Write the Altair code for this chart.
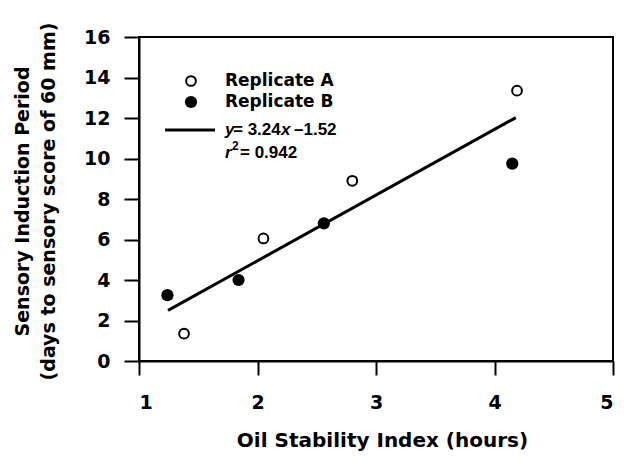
import altair as alt
import pandas as pd

# Data
a_x = [1.38, 2.05, 2.80, 4.19]
a_y = [1.35, 6.05, 8.9, 13.35]
b_x = [1.24, 1.84, 2.56, 4.15]
b_y = [3.25, 4.0, 6.8, 9.75]
fit_x = [1.245, 4.18]
fit_y = [2.50, 12.02]
x_ticks = [1, 2, 3, 4, 5]
y_ticks = [0, 2, 4, 6, 8, 10, 12, 14, 16]

FONT = "DejaVu Sans"
FONT2 = "Liberation Sans"
W, H = 474, 324

df_a = pd.DataFrame({"x": a_x, "y": a_y})
df_b = pd.DataFrame({"x": b_x, "y": b_y})
df_fit = pd.DataFrame({"x": fit_x, "y": fit_y})

xscale = alt.Scale(domain=[1, 5], nice=False, zero=False)
yscale = alt.Scale(domain=[0, 16], nice=False, zero=False)

xaxis = alt.Axis(values=x_ticks, title="Oil Stability Index (hours)", grid=False,
                 tickSize=14, tickWidth=2, tickColor="black", domainColor="black", domainWidth=2,
                 labelFont=FONT, labelFontSize=19, labelFontWeight="bold", labelColor="black",
                 labelPadding=18, titleFont=FONT, titleFontSize=20, titleFontWeight="bold",
                 titleColor="black", titleX=W / 2 + 6, titleY=79, titleBaseline="middle", format="d")
yaxis = alt.Axis(values=y_ticks, title=["Sensory Induction Period", "(days to sensory score of 60 mm)"],
                 grid=False, tickSize=15, tickWidth=2, tickColor="black", domainColor="black", domainWidth=2,
                 labelFont=FONT, labelFontSize=19, labelFontWeight="bold", labelColor="black",
                 labelPadding=14, titleFont=FONT, titleFontSize=19, titleFontWeight="bold",
                 titleColor="black", titleX=-117, titleY=H / 2 + 2, titleBaseline="middle",
                 titleLineHeight=26, format="d")

base_x = alt.X("x:Q", scale=xscale, axis=xaxis)
base_y = alt.Y("y:Q", scale=yscale, axis=yaxis)

fit = alt.Chart(df_fit).mark_line(color="black", strokeWidth=3).encode(x=base_x, y=base_y)
pts_a = alt.Chart(df_a).mark_point(shape="circle", filled=False, stroke="black", strokeWidth=2,
                                   size=95, opacity=1).encode(x=base_x, y=base_y)
pts_b = alt.Chart(df_b).mark_circle(color="black", size=150, opacity=1).encode(x=base_x, y=base_y)


def label(txt, px, py, italic=False, size=17, font=FONT, baseline="middle"):
    return alt.Chart(pd.DataFrame({"t": [txt]})).mark_text(
        font=font, fontSize=size, fontWeight="bold", fontStyle="italic" if italic else "normal",
        color="black", align="left", baseline=baseline
    ).encode(text="t:N", x=alt.value(px), y=alt.value(py))


leg_a = alt.Chart(pd.DataFrame({"t": [0]})).mark_point(
    shape="circle", filled=False, stroke="black", strokeWidth=2, size=95, opacity=1
).encode(x=alt.value(52), y=alt.value(44))
leg_b = alt.Chart(pd.DataFrame({"t": [0]})).mark_circle(color="black", size=150, opacity=1).encode(
    x=alt.value(52), y=alt.value(65))
leg_line = alt.Chart(pd.DataFrame({"t": [0]})).mark_rule(color="black", strokeWidth=3).encode(
    x=alt.value(26), x2=alt.value(76), y=alt.value(93))

texts = [
    label("Replicate A", 86, 44),
    label("Replicate B", 86, 65),
    label("y", 86, 93, italic=True, size=17, font=FONT2),
    label("= 3.24", 94, 93, size=17, font=FONT2),
    label("x", 142, 93, italic=True, size=17, font=FONT2),
    label("\u20131.52", 155, 93, size=17, font=FONT2),
    label("r", 86, 116, italic=True, size=17, font=FONT2),
    label("2", 93, 109, size=12, font=FONT2),
    label("= 0.942", 101, 116, size=17, font=FONT2),
]

chart = alt.layer(fit, pts_a, pts_b, leg_a, leg_b, leg_line, *texts).properties(
    width=W, height=H,
    background="white",
    autosize=alt.AutoSizeParams(type="none"),
    padding={"left": 131, "top": 29, "right": 3, "bottom": 95},
).configure_view(stroke="black", strokeWidth=2)

chart.save("out.html", embed_options={"renderer": "svg", "actions": False})
